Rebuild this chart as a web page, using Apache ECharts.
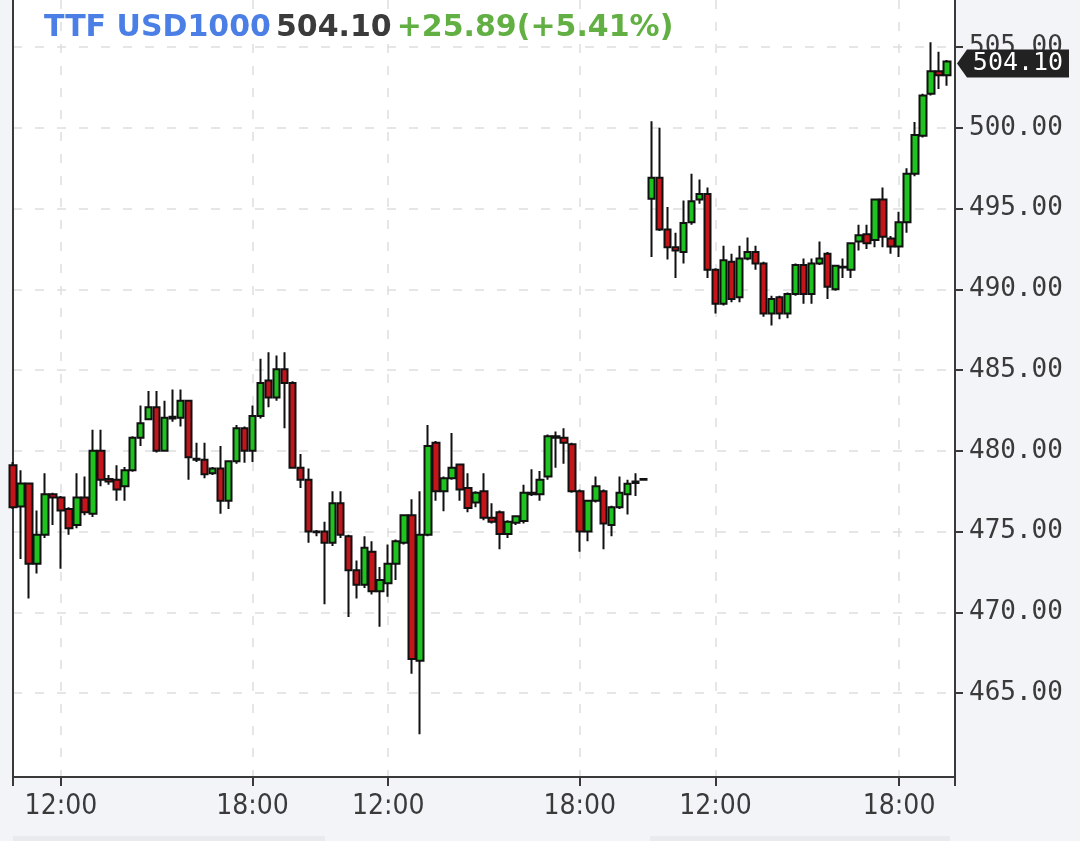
<!DOCTYPE html>
<html><head><meta charset="utf-8">
<script src="https://cdn.jsdelivr.net/npm/echarts@6/dist/echarts.min.js"></script>
<style>html,body{margin:0;padding:0;background:#f2f4f7;} #c{width:1080px;height:841px;}</style>
</head><body><div id="c"></div>
<script>
const symbolName = 'TTF USD1000';
const lastPriceText = '504.10';
const changeText = '+25.89(+5.41%)';
const lastPrice = 504.10;

const opens = [
479.1, 476.55, 477.97, 473.0, 474.8, 477.3, 477.1, 476.4, 475.4, 477.1,
476.1, 480.0, 478.25, 478.2, 477.8, 478.8, 480.8, 481.95, 482.7, 480.0,
482.0, 482.05, 483.1, 479.5, 479.45, 478.6, 478.9, 476.9, 479.35, 481.4,
480.0, 482.15, 484.35, 483.3, 485.05, 484.2, 478.95, 478.2, 475.0, 475.0,
474.3, 476.75, 474.7, 472.6, 471.7, 473.75, 471.3, 471.8, 473.0, 474.3,
476.0, 467.0, 474.8, 480.5, 477.5, 478.3, 479.15, 477.7, 476.8, 477.5,
475.85, 476.2, 474.85, 475.55, 475.65, 477.4, 477.3, 478.4, 480.9, 480.8,
480.4, 477.5, 475.0, 476.9, 477.5, 475.4, 476.5, 477.3, 478.0, 478.2,
495.6, 496.9, 493.7, 492.6, 492.3, 494.15, 495.55, 495.9, 491.2, 489.1,
491.7, 489.5, 491.9, 492.3, 491.6, 488.5, 489.5, 488.5, 489.7, 491.5,
489.7, 491.6, 492.2, 490.0, 491.4, 491.2, 492.95, 493.4, 493.05, 495.55,
493.15, 492.65, 494.15, 497.15, 499.5, 502.1, 503.5, 503.25
];
const closes = [
476.5, 477.97, 473.0, 474.8, 477.3, 477.1, 476.3, 475.2, 477.1, 476.2,
480.0, 478.2, 478.1, 477.6, 478.8, 480.8, 481.7, 482.7, 480.0, 482.05,
482.1, 483.1, 479.6, 479.45, 478.55, 478.9, 476.9, 479.35, 481.4, 480.0,
482.15, 484.2, 483.3, 485.05, 484.2, 478.95, 478.2, 475.0, 474.95, 474.3,
476.75, 474.8, 472.6, 471.7, 474.0, 471.3, 472.0, 473.0, 474.4, 476.0,
467.1, 474.8, 480.3, 477.5, 478.3, 478.95, 477.6, 476.45, 477.4, 475.85,
475.6, 474.85, 475.6, 475.95, 477.4, 477.3, 478.2, 480.9, 480.8, 480.5,
477.5, 475.0, 476.9, 477.8, 475.5, 476.5, 477.4, 477.95, 478.1, 478.25,
496.9, 493.7, 492.6, 492.4, 494.1, 495.45, 495.9, 491.2, 489.1, 491.8,
489.4, 491.9, 492.3, 491.6, 488.5, 489.4, 488.5, 489.7, 491.5, 489.7,
491.6, 491.9, 490.15, 491.45, 491.35, 492.85, 493.35, 492.85, 495.55, 493.25,
492.65, 494.15, 497.15, 499.55, 502.0, 503.5, 503.25, 504.1
];
const lows = [
476.4, 473.3, 470.85, 472.4, 474.6, 475.4, 472.7, 474.8, 475.2, 476.0,
475.9, 477.8, 477.9, 476.9, 476.9, 478.7, 480.3, 481.9, 479.9, 480.0,
481.8, 481.5, 478.2, 479.3, 478.3, 478.5, 476.1, 476.4, 479.2, 479.25,
479.3, 482.0, 482.7, 483.1, 481.4, 478.9, 477.7, 474.3, 474.7, 470.5,
474.1, 474.6, 469.7, 470.85, 471.5, 471.1, 469.1, 470.96, 472.0, 474.2,
466.2, 462.45, 474.7, 476.9, 476.25, 478.2, 476.9, 476.2, 476.5, 475.7,
475.5, 473.9, 474.6, 475.4, 475.5, 477.2, 476.9, 478.2, 478.95, 479.2,
477.4, 473.75, 474.4, 476.8, 473.9, 474.7, 476.4, 476.05, 477.2, 478.2,
492.0, 493.6, 491.85, 490.7, 491.6, 494.0, 495.3, 490.7, 488.5, 489.0,
489.2, 489.2, 491.8, 491.2, 488.3, 487.75, 488.15, 488.2, 489.6, 489.1,
489.1, 491.5, 489.4, 489.9, 490.7, 490.7, 492.4, 492.5, 492.6, 492.6,
492.2, 492.0, 493.5, 497.0, 499.4, 502.0, 502.4, 502.6
];
const highs = [
479.3, 478.8, 478.0, 476.3, 478.6, 477.4, 477.2, 476.5, 478.6, 478.4,
481.3, 481.3, 478.5, 479.1, 479.0, 480.9, 482.8, 483.7, 483.7, 483.1,
483.8, 483.8, 483.1, 480.5, 480.5, 479.0, 480.3, 479.4, 481.6, 481.5,
482.8, 485.7, 486.1, 485.9, 486.1, 484.3, 479.8, 478.9, 475.1, 475.6,
477.5, 477.5, 474.8, 473.2, 474.7, 474.4, 472.8, 474.2, 474.5, 476.0,
477.0, 477.5, 481.6, 480.6, 478.4, 481.1, 479.2, 478.6, 477.5, 478.6,
476.75, 476.3, 475.7, 476.0, 477.9, 478.85, 478.75, 481.0, 481.2, 481.4,
480.5, 477.6, 476.9, 478.4, 477.6, 476.6, 478.4, 478.2, 478.6, 478.3,
500.4, 500.0, 495.1, 493.5, 495.5, 497.15, 496.8, 496.3, 491.3, 492.7,
492.2, 492.7, 493.2, 492.7, 491.7, 489.6, 489.6, 489.8, 491.6, 491.9,
491.9, 492.95, 492.3, 491.5, 491.9, 492.9, 494.0, 494.0, 495.6, 496.3,
493.3, 494.8, 497.5, 500.35, 502.1, 505.3, 504.7, 504.2
];

// one category slot per 15-minute bar, plus an empty slot at the right edge
const categories = opens.map((_, i) => String(i)).concat([String(opens.length)]);
const xTickIndex = [6, 30, 47, 71, 88, 111];
const xTickLabels = ['12:00', '18:00', '12:00', '18:00', '12:00', '18:00'];
const yTicks = [465, 470, 475, 480, 485, 490, 495, 500, 505];
const yMin = 459.8, yMax = 507.91;

const candles = opens.map((o, i) => [o, closes[i], lows[i], highs[i]]);

const chart = echarts.init(document.getElementById('c'), null, {renderer: 'canvas'});
const axisColor = '#3a3a3a';
const gridColor = '#dedede';
chart.setOption({
  animation: false,
  backgroundColor: '#f2f4f7',
  title: {
    left: 39, top: 7,
    text: '{n|' + symbolName + '} {p|' + lastPriceText + '} {c|' + changeText + '}',
    textStyle: {
      rich: {
        n: {color: '#4c7fe6', fontWeight: 'bold', fontSize: 30, fontFamily: 'DejaVu Sans', lineHeight: 32},
        p: {color: '#3b3b3b', fontWeight: 'bold', fontSize: 30, fontFamily: 'DejaVu Sans', lineHeight: 32},
        c: {color: '#62b043', fontWeight: 'bold', fontSize: 30, fontFamily: 'DejaVu Sans', lineHeight: 32}
      }
    }
  },
  grid: {left: 13, right: 125, top: 0, bottom: 64, show: true, backgroundColor: '#ffffff', borderWidth: 0},
  xAxis: {
    type: 'category', data: categories, boundaryGap: false,
    axisLine: {show: true, lineStyle: {color: axisColor, width: 2}},
    axisTick: {show: true, length: 9, interval: (i) => i === 0 || i === categories.length - 1 || xTickIndex.includes(i), lineStyle: {color: axisColor, width: 2}},
    axisLabel: {
      interval: (i) => xTickIndex.includes(i),
      formatter: (v, i) => { const k = xTickIndex.indexOf(i); return k >= 0 ? xTickLabels[k] : ''; },
      color: axisColor, fontFamily: 'DejaVu Sans Condensed', fontSize: 28, margin: 16
    },
    splitLine: {show: true, interval: (i) => xTickIndex.includes(i), lineStyle: {color: gridColor, type: [9, 13], width: 1.5}}
  },
  yAxis: [{
    type: 'value', position: 'right', min: yMin, max: yMax, scale: true,
    splitNumber: 10, minInterval: 5, maxInterval: 5,
    axisLine: {show: true, lineStyle: {color: axisColor, width: 2}},
    axisTick: {show: true, length: 8, customValues: yTicks, lineStyle: {color: axisColor, width: 2}},
    axisLabel: {customValues: yTicks, formatter: (v) => Number(v).toFixed(2), color: axisColor, fontFamily: 'DejaVu Sans Mono', fontSize: 26, margin: 14},
    splitLine: {show: true, lineStyle: {color: gridColor, type: [9, 13], width: 1.5}}
  }, {
    type: 'value', position: 'left', min: yMin, max: yMax, scale: true,
    axisLine: {show: true, onZero: false, lineStyle: {color: axisColor, width: 2}},
    axisTick: {show: false}, axisLabel: {show: false}, splitLine: {show: false}
  }],
  graphic: [
    {type: 'rect', left: 13, top: 836, shape: {width: 312, height: 5}, style: {fill: '#e8eaee'}, silent: true},
    {type: 'rect', left: 650, top: 836, shape: {width: 300, height: 5}, style: {fill: '#e8eaee'}, silent: true}
  ],
  series: [{
    type: 'candlestick',
    data: candles,
    clip: true,
    barWidth: 7,
    itemStyle: {color: '#1fc31f', color0: '#c4151b', borderColor: '#111111', borderColor0: '#111111', borderWidth: 2},
    markPoint: {
      silent: true, animation: false,
      data: [{coord: [categories.length - 1, lastPrice], value: lastPrice}],
      symbol: 'path://M0,14 L10,0 L112,0 L112,28 L10,28 Z',
      symbolSize: [112, 28], symbolKeepAspect: false, symbolOffset: [58, 2],
      itemStyle: {color: '#222222'},
      label: {show: true, position: 'inside', formatter: lastPriceText, color: '#ffffff', fontFamily: 'DejaVu Sans Mono', fontSize: 25, offset: [5, 0], textBorderWidth: 0}
    }
  }]
});
</script></body></html>
